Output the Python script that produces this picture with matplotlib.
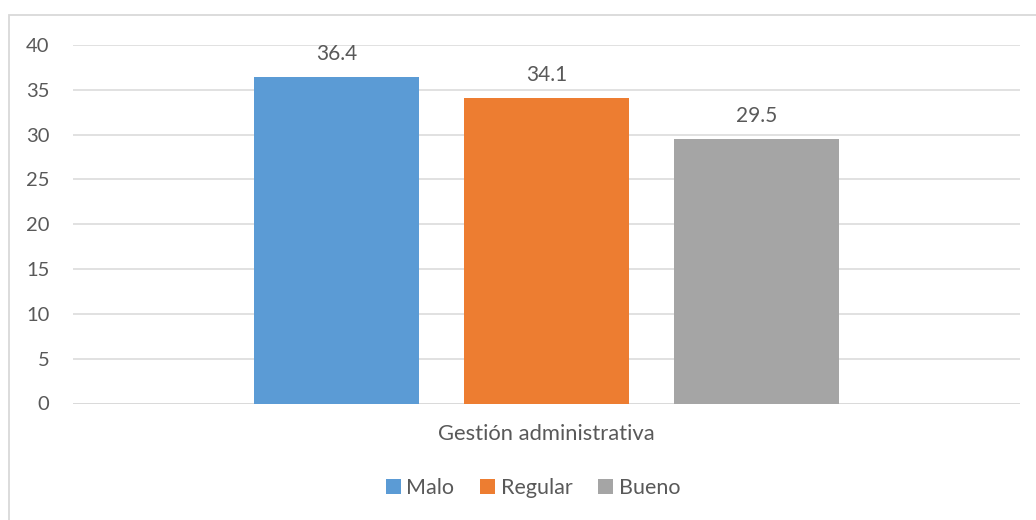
import matplotlib
matplotlib.use("Agg")
import matplotlib.pyplot as plt
from matplotlib.patches import Patch, Rectangle

categories = ["Malo", "Regular", "Bueno"]
values = [36.4, 34.1, 29.5]
colors = ["#5B9BD5", "#ED7D31", "#A5A5A5"]
group_label = "Gestión administrativa"
yticks = [0, 5, 10, 15, 20, 25, 30, 35, 40]

plt.rcParams['font.family'] = ['Lato', 'DejaVu Sans']
txt = "#595959"

W, H = 1036, 520
fig = plt.figure(figsize=(W / 100, H / 100), dpi=100)
ax = fig.add_axes([73 / W, 1 - 403.5 / H, (1020 - 73) / W, (403.5 - 45) / H])

xs = [-1, 0, 1]
bars = ax.bar(xs, values, width=0.79, color=colors, zorder=3)
for b, v in zip(bars, values):
    ax.annotate(f"{v}", (b.get_x() + b.get_width() / 2, v), xytext=(0, 9.5),
                textcoords="offset points", ha="center", va="bottom",
                fontsize=15, color=txt)

ax.set_ylim(0, 40)
ax.set_xlim(-2.255, 2.255)
ax.set_yticks(yticks)
ax.set_yticklabels([str(t) for t in yticks], fontsize=14.5, color=txt)
ax.tick_params(axis="y", length=0, pad=17)
ax.set_xticks([0])
ax.set_xticklabels([group_label], fontsize=15.8, color=txt)
ax.tick_params(axis="x", length=0, pad=15)
ax.yaxis.grid(True, color="#D9D9D9", linewidth=1.1, zorder=0)
for s in ax.spines.values():
    s.set_visible(False)
ax.axhline(0, color="#D9D9D9", linewidth=1.1, zorder=2)

handles = [Patch(facecolor=c, label=l) for c, l in zip(colors, categories)]
fig.legend(handles=handles, loc="center", bbox_to_anchor=(533 / W, 1 - 488 / H),
           ncol=3, frameon=False, fontsize=15.5, handlelength=0.7, handleheight=0.7,
           handletextpad=0.25, columnspacing=1.2, labelcolor=txt)

fig.patches.append(Rectangle((8.5 / W, -0.1), 1.2, 1.1 - 15.5 / H, transform=fig.transFigure,
                             fill=False, edgecolor="#D9D9D9", linewidth=1.3))

fig.savefig("out.png", dpi=100, facecolor="white")
